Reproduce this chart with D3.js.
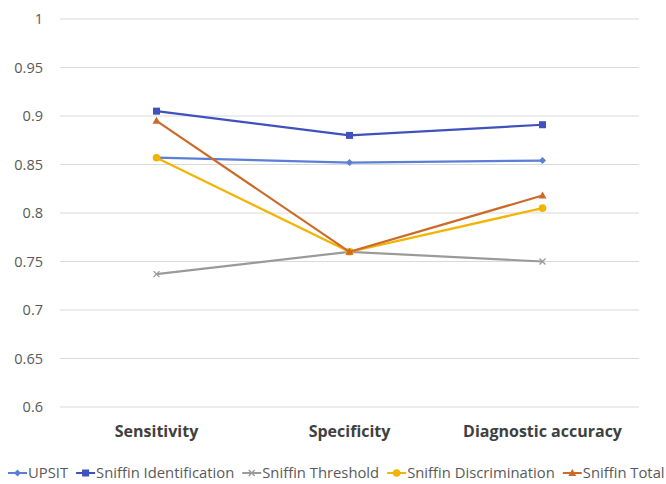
<!DOCTYPE html>
<html><head><meta charset="utf-8">
<script src="https://cdn.jsdelivr.net/npm/d3@7"></script>
<style>body{margin:0;background:#fff;font-family:"Open Sans",sans-serif;}</style>
</head><body><svg id="c" width="666" height="484"></svg>
<script>
const categories = ["Sensitivity", "Specificity", "Diagnostic accuracy"];
const seriesNames = ["UPSIT", "Sniffin Identification", "Sniffin Threshold", "Sniffin Discrimination", "Sniffin Total"];
const upsit = [0.857, 0.852, 0.854];
const identification = [0.905, 0.880, 0.891];
const threshold = [0.737, 0.760, 0.750];
const discrimination = [0.857, 0.760, 0.805];
const total = [0.895, 0.760, 0.818];
const yTicks = [0.6, 0.65, 0.7, 0.75, 0.8, 0.85, 0.9, 0.95, 1];
const colors = ["#5b7fd6", "#3f51bd", "#9a9a9a", "#f2b400", "#cc6a2a"];
const markers = ["diamond", "square", "cross", "circle", "triangle"];

const series = [upsit, identification, threshold, discrimination, total].map((v, i) => ({name: seriesNames[i], values: v, color: colors[i], marker: markers[i]}));

const FONT = "'Open Sans',sans-serif";
const svg = d3.select("#c");
const mLeft = 60, mRight = 639, mTop = 19, mBottom = 407;
const x = d3.scaleBand().domain(categories).range([mLeft, mRight]);
const y = d3.scaleLinear().domain([0.6, 1]).range([mBottom, mTop]);

// gridlines
svg.append("g").selectAll("line").data(yTicks).join("line")
  .attr("x1", mLeft).attr("x2", mRight)
  .attr("y1", d => y(d)).attr("y2", d => y(d))
  .attr("stroke", "#d9d9d9").attr("stroke-width", 1);

// y axis labels
const yAxis = d3.axisLeft(y).tickValues(yTicks).tickSize(0).tickPadding(17).tickFormat(d => String(+d.toFixed(2)));
const gy = svg.append("g").attr("transform", `translate(${mLeft},0)`).call(yAxis);
gy.select(".domain").remove();
gy.selectAll("text").attr("fill", "#595959").style("font-size", "14.5px").style("font-family", FONT);

// x axis labels
const xAxis = d3.axisBottom(x).tickSize(0).tickPadding(19);
const gx = svg.append("g").attr("transform", `translate(0,${mBottom})`).call(xAxis);
gx.select(".domain").remove();
gx.selectAll("text").attr("fill", "#404040").style("font-size", "16px").style("font-weight", "bold").style("font-family", FONT);

const cx = c => x(c) + x.bandwidth() / 2;
const line = d3.line().x((d, i) => cx(categories[i])).y(d => y(d));

function drawMarker(g, type, color, px, py) {
  if (type === "diamond") {
    g.append("path").attr("d", `M${px},${py-3.5}L${px+3.5},${py}L${px},${py+3.5}L${px-3.5},${py}Z`).attr("fill", color);
  } else if (type === "square") {
    g.append("rect").attr("x", px-3.5).attr("y", py-3.5).attr("width", 7).attr("height", 7).attr("fill", color);
  } else if (type === "cross") {
    g.append("path").attr("d", `M${px-3},${py-3}L${px+3},${py+3}M${px-3},${py+3}L${px+3},${py-3}`).attr("stroke", color).attr("stroke-width", 1.3);
  } else if (type === "circle") {
    g.append("circle").attr("cx", px).attr("cy", py).attr("r", 3.8).attr("fill", color);
  } else if (type === "triangle") {
    g.append("path").attr("d", `M${px},${py-4}L${px+4},${py+3}L${px-4},${py+3}Z`).attr("fill", color);
  }
}

const order = [2, 0, 1, 3, 4];
order.forEach(k => {
  const s = series[k];
  const g = svg.append("g");
  g.append("path").datum(s.values).attr("d", line).attr("fill", "none").attr("stroke", s.color).attr("stroke-width", 2.2);
  s.values.forEach((v, i) => drawMarker(g, s.marker, s.color, cx(categories[i]), y(v)));
});

// legend
const legend = svg.append("g");
const legendItems = legend.selectAll("g").data(series).join("g");
legendItems.append("line").attr("x1", 0).attr("x2", 19).attr("y1", 0).attr("y2", 0).attr("stroke", d => d.color).attr("stroke-width", 2);
legendItems.each(function(d) { drawMarker(d3.select(this), d.marker, d.color, 9.5, 0); });
legendItems.append("text").attr("x", 20).attr("y", 0).attr("dy", "0.35em").text(d => d.name)
  .attr("fill", "#595959").style("font-size", "14.8px").style("font-family", FONT);
let xpos = 8;
const gaps = 8;
legendItems.each(function() {
  const w = this.getBBox().width;
  d3.select(this).attr("transform", `translate(${xpos},473)`);
  xpos += w + gaps;
});
</script></body></html>
